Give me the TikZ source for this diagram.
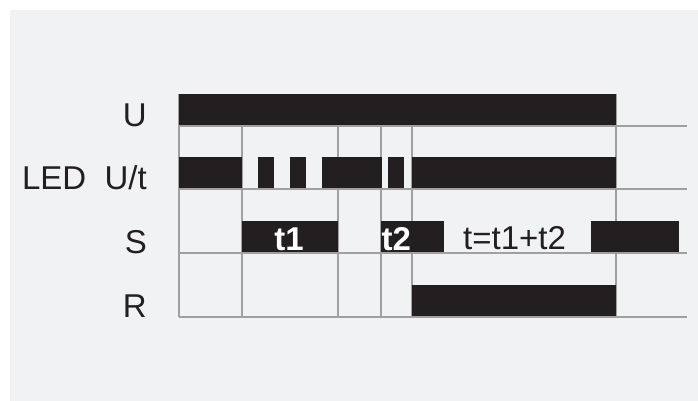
\documentclass[tikz,border=0pt]{standalone}
\usepackage{fontspec}
\setmainfont{Liberation Sans}
\usepackage{tikz}
\definecolor{BarBlack}{HTML}{231F20}
\definecolor{GridGray}{HTML}{A0A0A0}
\definecolor{PanelGray}{HTML}{F1F2F4}

\begin{document}
\begin{tikzpicture}[
    x=1pt,
    y=-1pt,
    every node/.style={
        inner sep=0pt,
        text=BarBlack,
        font=\fontsize{33}{40}\selectfont
    },
    grid/.style={
        draw=GridGray,
        line width=1.3pt
    },
    bar/.style={
        fill=BarBlack
    },
    rowlabel/.style={
        anchor=base east
    },
    barlabel/.style={
        text=white,
        font=\fontsize{33}{40}\selectfont\bfseries
    }
]

\useasboundingbox (0,0) rectangle (698,401);
\fill[PanelGray] (10,10) rectangle (698,401);

% grid
\foreach \y in {126,189,253,317}
    \draw[grid] (179,\y) -- (687,\y);
\draw[grid] (179,94) -- (179,317);
\foreach \x in {242,338,381,412}
    \draw[grid] (\x,126) -- (\x,317);
\draw[grid] (616,94) -- (616,317);

% U
\fill[bar] (179,94) rectangle (616,125.3);

% LED U/t
\fill[bar] (179,157) rectangle (242,188.3);
\fill[bar] (258,157) rectangle (274,188.3);
\fill[bar] (290,157) rectangle (306,188.3);
\fill[bar] (322,157) rectangle (382,188.3);
\fill[bar] (388,157) rectangle (404,188.3);
\fill[bar] (412,157) rectangle (616,188.3);

% S
\fill[bar] (242,221) rectangle (338,252.3);
\fill[bar] (381,221) rectangle (444,252.3);
\fill[bar] (591,221) rectangle (679,252.3);

% R
\fill[bar] (412,285) rectangle (616,316.3);

\node[rowlabel] (U) at (147,126) {U};
\node[rowlabel] (LED) at (147,189) {LED~~U/t};
\node[rowlabel] (S) at (147,253) {S};
\node[rowlabel] (R) at (147,317) {R};

\node[barlabel, anchor=base] (t1) at (289,250) {t1};
\node[barlabel, anchor=base west] (t2) at (381.5,250) {t2};
\node[anchor=base] (tsum) at (514.5,249.5) {t=t1+t2};

\end{tikzpicture}
\end{document}
